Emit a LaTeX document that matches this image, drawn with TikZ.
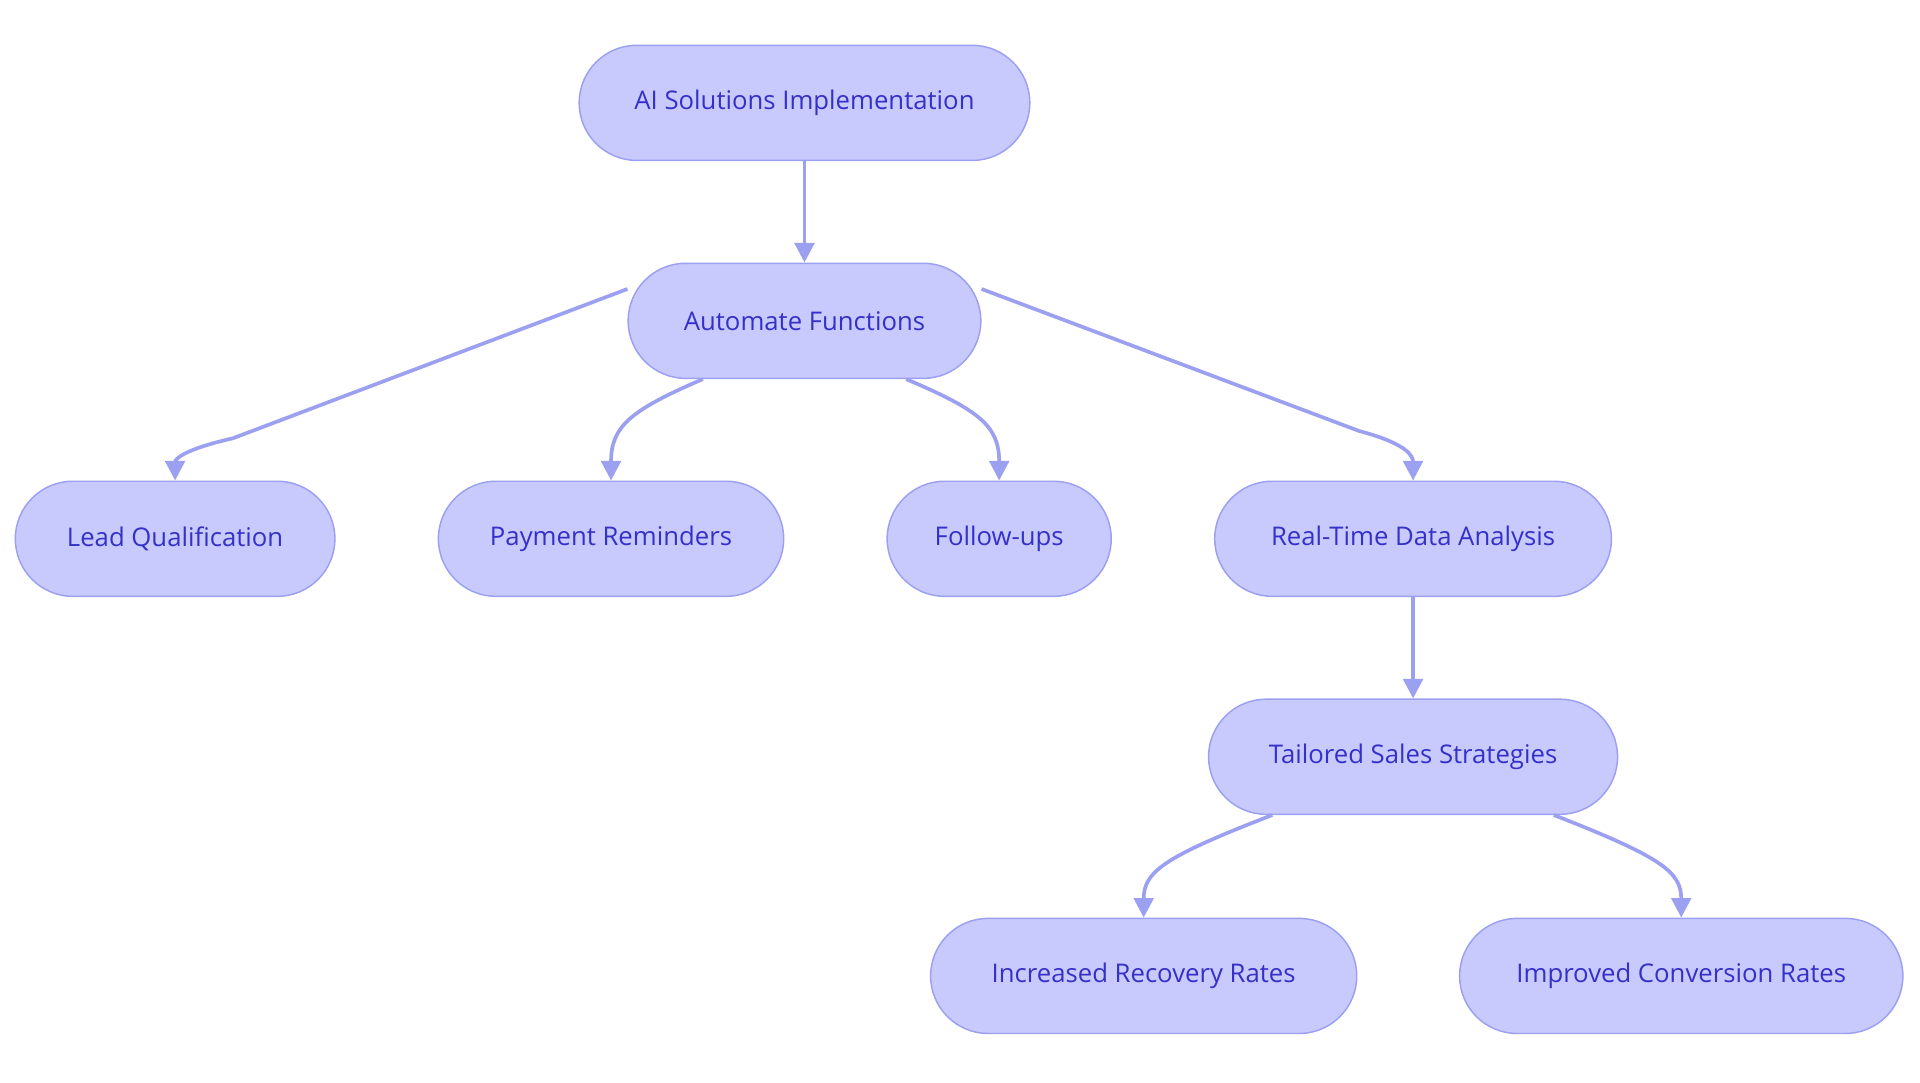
\documentclass[tikz,border=0pt]{standalone}
\usepackage{fontspec}
\setmainfont{Open Sans}
\usetikzlibrary{arrows.meta}
\definecolor{nfill}{HTML}{C8CAFD}
\definecolor{nline}{HTML}{9CA0F0}
\definecolor{ntext}{HTML}{3530C8}
\begin{document}
\begin{tikzpicture}[x=1pt,y=-1pt,
  box/.style={draw=nline,fill=nfill,line width=1.2pt,rounded corners=47pt,minimum height=94pt,text=ntext,font=\fontsize{21}{24}\selectfont,inner sep=0pt},
  edge/.style={draw=nline,line width=3pt,-{Triangle[length=16pt,width=16pt]}}]
\useasboundingbox (0,0) rectangle (1568,884);
\node[box,minimum width=368pt] (ai) at (657,84) {AI Solutions Implementation};
\node[box,minimum width=288pt] (au) at (657,262) {Automate Functions};
\node[box,minimum width=261pt] (lq) at (143,440) {Lead Qualification};
\node[box,minimum width=282pt] (pr) at (499,440) {Payment Reminders};
\node[box,minimum width=183pt] (fu) at (816,440) {Follow-ups};
\node[box,minimum width=324pt] (rt) at (1154,440) {Real-Time Data Analysis};
\node[box,minimum width=334pt] (ts) at (1154,618) {Tailored Sales Strategies};
\node[box,minimum width=348pt] (ir) at (934,797) {Increased Recovery Rates};
\node[box,minimum width=362pt] (ic) at (1373,797) {Improved Conversion Rates};
\draw[edge] (ai) -- (au);
\draw[edge] ([yshift=26pt]au.west) -- (190,358) .. controls (150,367) and (143,375) .. (lq.north);
\draw[edge] ([xshift=-83pt]au.south) .. controls (515,335) and (499,348) .. (pr.north);
\draw[edge] ([xshift=83pt]au.south) .. controls (800,335) and (816,348) .. (fu.north);
\draw[edge] ([yshift=26pt]au.east) -- (1110,352) .. controls (1148,362) and (1154,372) .. (rt.north);
\draw[edge] (rt) -- (ts);
\draw[edge] ([xshift=-115pt]ts.south) .. controls (950,700) and (934,712) .. (ir.north);
\draw[edge] ([xshift=115pt]ts.south) .. controls (1357,700) and (1373,712) .. (ic.north);
\end{tikzpicture}
\end{document}
